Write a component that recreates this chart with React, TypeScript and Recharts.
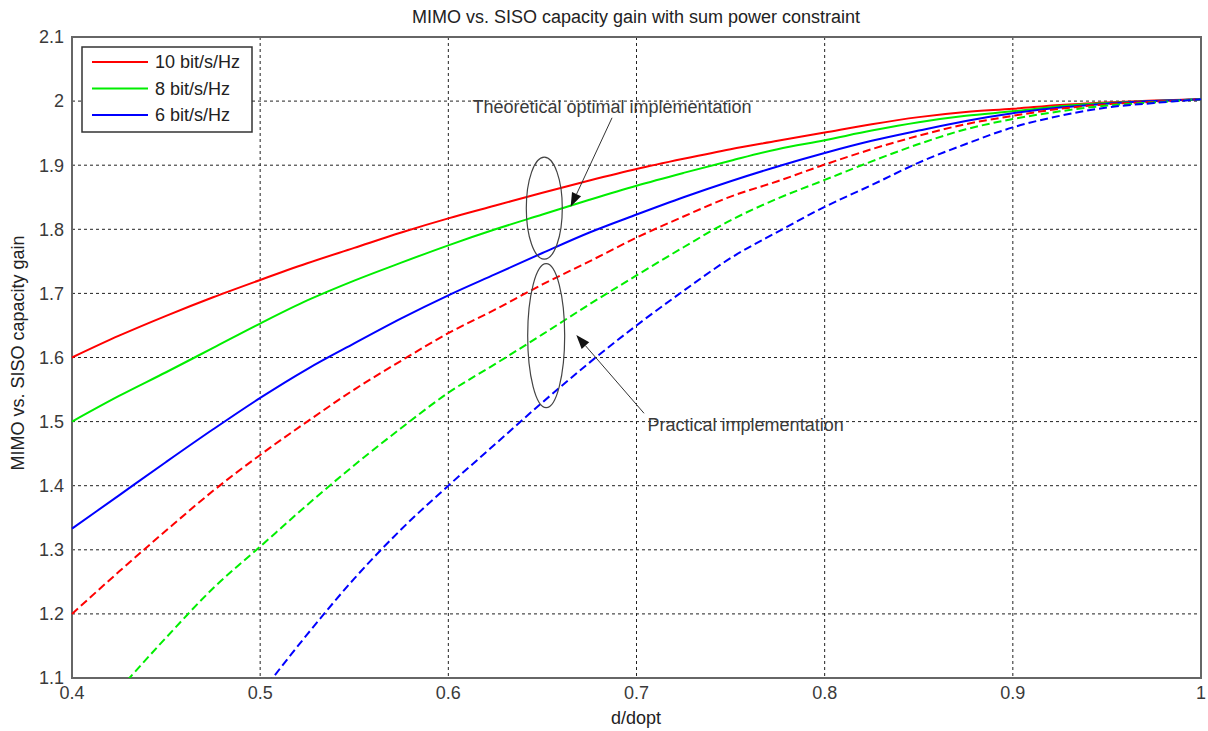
import React from 'react';
import { LineChart, Line, XAxis, YAxis, CartesianGrid, ReferenceArea, ReferenceDot, ReferenceLine } from 'recharts';

// d/dopt sample points
const ratio = [0.4, 0.425, 0.45, 0.475, 0.5, 0.525, 0.55, 0.575, 0.6, 0.625, 0.65, 0.675, 0.7, 0.725, 0.75, 0.775, 0.8, 0.825, 0.85, 0.875, 0.9, 0.925, 0.95, 0.975, 1.0];

// theoretical optimal implementation (solid)
const opt10 = [1.6, 1.634, 1.665, 1.694, 1.721, 1.747, 1.771, 1.795, 1.817, 1.837, 1.857, 1.876, 1.894, 1.91, 1.925, 1.938, 1.951, 1.964, 1.975, 1.983, 1.988, 1.994, 1.998, 2.001, 2.003];
const opt8 = [1.5, 1.54, 1.577, 1.615, 1.653, 1.689, 1.72, 1.748, 1.775, 1.8, 1.823, 1.846, 1.868, 1.888, 1.907, 1.925, 1.939, 1.954, 1.967, 1.977, 1.984, 1.992, 1.997, 2.0, 2.003];
const opt6 = [1.333, 1.385, 1.437, 1.488, 1.537, 1.582, 1.622, 1.661, 1.697, 1.73, 1.763, 1.795, 1.823, 1.85, 1.875, 1.898, 1.919, 1.938, 1.954, 1.969, 1.981, 1.99, 1.996, 2.0, 2.003];

// practical implementation (dashed)
const prac10 = [1.2, 1.266, 1.33, 1.392, 1.448, 1.5, 1.55, 1.595, 1.638, 1.675, 1.714, 1.75, 1.787, 1.82, 1.851, 1.875, 1.901, 1.925, 1.946, 1.964, 1.977, 1.988, 1.995, 1.999, 2.003];
const prac8 = [null, 1.082, 1.163, 1.24, 1.305, 1.37, 1.432, 1.49, 1.545, 1.59, 1.636, 1.683, 1.728, 1.772, 1.814, 1.848, 1.877, 1.906, 1.933, 1.956, 1.972, 1.984, 1.993, 1.998, 2.003];
const prac6 = [null, null, null, null, 1.075, 1.168, 1.255, 1.332, 1.4, 1.465, 1.53, 1.592, 1.65, 1.704, 1.755, 1.796, 1.835, 1.869, 1.904, 1.933, 1.959, 1.977, 1.99, 1.997, 2.003];

const xTicks = [0.4, 0.5, 0.6, 0.7, 0.8, 0.9, 1];
const yTicks = [1.1, 1.2, 1.3, 1.4, 1.5, 1.6, 1.7, 1.8, 1.9, 2, 2.1];

const legendItems = [
  { name: '10 bit/s/Hz', color: '#ff0000' },
  { name: '8 bit/s/Hz', color: '#00ee00' },
  { name: '6 bit/s/Hz', color: '#0000ff' },
];

const series = [
  { key: 'opt10', values: opt10, color: '#ff0000', dash: undefined },
  { key: 'opt8', values: opt8, color: '#00ee00', dash: undefined },
  { key: 'opt6', values: opt6, color: '#0000ff', dash: undefined },
  { key: 'prac10', values: prac10, color: '#ff0000', dash: '8 4' },
  { key: 'prac8', values: prac8, color: '#00ee00', dash: '8 4' },
  { key: 'prac6', values: prac6, color: '#0000ff', dash: '8 4' },
];

const data = ratio.map((x, i) => {
  const row: any = { x };
  series.forEach((s) => { row[s.key] = s.values[i]; });
  return row;
});

const FONT = '"Liberation Sans", Arial, sans-serif';
const TXT = '#3a3a3a';

const Arrow = (props: any) => {
  const { x1, y1, x2, y2 } = props;
  const ang = Math.atan2(y2 - y1, x2 - x1);
  const len = 14, half = 5;
  const bx = x2 - len * Math.cos(ang), by = y2 - len * Math.sin(ang);
  const px = -Math.sin(ang) * half, py = Math.cos(ang) * half;
  return (
    <g>
      <line x1={x1} y1={y1} x2={bx} y2={by} stroke="#333" strokeWidth={1} />
      <polygon points={`${x2},${y2} ${bx + px},${by + py} ${bx - px},${by - py}`} fill="#111" />
    </g>
  );
};

const ellipse = (rx: number, ry: number) => (props: any) => (
  <ellipse cx={props.cx} cy={props.cy} rx={rx} ry={ry} fill="none" stroke="#444" strokeWidth={1.2} />
);

const note = (label: string) => (props: any) => (
  <text x={props.cx} y={props.cy} textAnchor="middle" dominantBaseline="central" fontFamily={FONT} fontSize={18} fill={TXT}>
    {label}
  </text>
);

export default function App() {
  return (
    <div style={{ position: 'absolute', left: 0, top: 0, width: 1208, height: 731, background: '#fff' }}>
      <LineChart width={1208} height={731} data={data} margin={{ top: 37, right: 7, bottom: 28, left: 22 }}>
        <CartesianGrid stroke="#222" strokeDasharray="3 3" />
        <XAxis
          dataKey="x"
          type="number"
          domain={[0.4, 1]}
          ticks={xTicks}
          tickFormatter={(v: number) => String(Number(v.toFixed(1)))}
          height={25}
          tickLine={false}
          axisLine={false}
          tick={{ fill: TXT, fontSize: 18, fontFamily: FONT }}
        />
        <YAxis
          type="number"
          domain={[1.1, 2.1]}
          ticks={yTicks}
          allowDataOverflow
          tickFormatter={(v: number) => String(Number(v.toFixed(1)))}
          width={50}
          tickLine={false}
          axisLine={false}
          tick={{ fill: TXT, fontSize: 18, fontFamily: FONT }}
        />
        <ReferenceArea x1={0.4} x2={1} y1={1.1} y2={2.1} fill="none" stroke="#666" strokeWidth={2} />
        {series.map((s) => (
          <Line
            key={s.key}
            dataKey={s.key}
            stroke={s.color}
            strokeWidth={2}
            strokeDasharray={s.dash}
            dot={false}
            activeDot={false}
            type="monotone"
            isAnimationActive={false}
          />
        ))}
        <ReferenceDot x={0.651} y={1.833} r={1} shape={ellipse(18, 51)} />
        <ReferenceDot x={0.652} y={1.634} r={1} shape={ellipse(18.5, 72)} />
        <ReferenceDot x={0.687} y={1.991} r={1} shape={note('Theoretical optimal implementation')} />
        <ReferenceDot x={0.758} y={1.495} r={1} shape={note('Practical implementation')} />
        <ReferenceLine segment={[{ x: 0.687, y: 1.974 }, { x: 0.665, y: 1.835 }]} shape={Arrow} />
        <ReferenceLine segment={[{ x: 0.704, y: 1.513 }, { x: 0.668, y: 1.635 }]} shape={Arrow} />
      </LineChart>

      <svg width={1208} height={731} style={{ position: 'absolute', left: 0, top: 0, pointerEvents: 'none' }}>
        <text x={636} y={17} textAnchor="middle" dominantBaseline="central" fontFamily={FONT} fontSize={18} fill="#222">
          MIMO vs. SISO capacity gain with sum power constraint
        </text>
        <text x={636} y={718} textAnchor="middle" dominantBaseline="central" fontFamily={FONT} fontSize={18} fill="#222">
          d/dopt
        </text>
        <text
          x={18}
          y={353}
          textAnchor="middle"
          dominantBaseline="central"
          fontFamily={FONT}
          fontSize={18}
          fill="#222"
          transform="rotate(-90 18 353)"
        >
          MIMO vs. SISO capacity gain
        </text>
        <rect x={82} y={47} width={170} height={85} fill="#fff" stroke="#333" strokeWidth={1.5} />
        {legendItems.map((it, i) => (
          <g key={it.name}>
            <line x1={92} x2={148} y1={62 + i * 26.5} y2={62 + i * 26.5} stroke={it.color} strokeWidth={2} />
            <text x={155} y={62 + i * 26.5} dominantBaseline="central" fontFamily={FONT} fontSize={18} fill="#222">
              {it.name}
            </text>
          </g>
        ))}
      </svg>
    </div>
  );
}
